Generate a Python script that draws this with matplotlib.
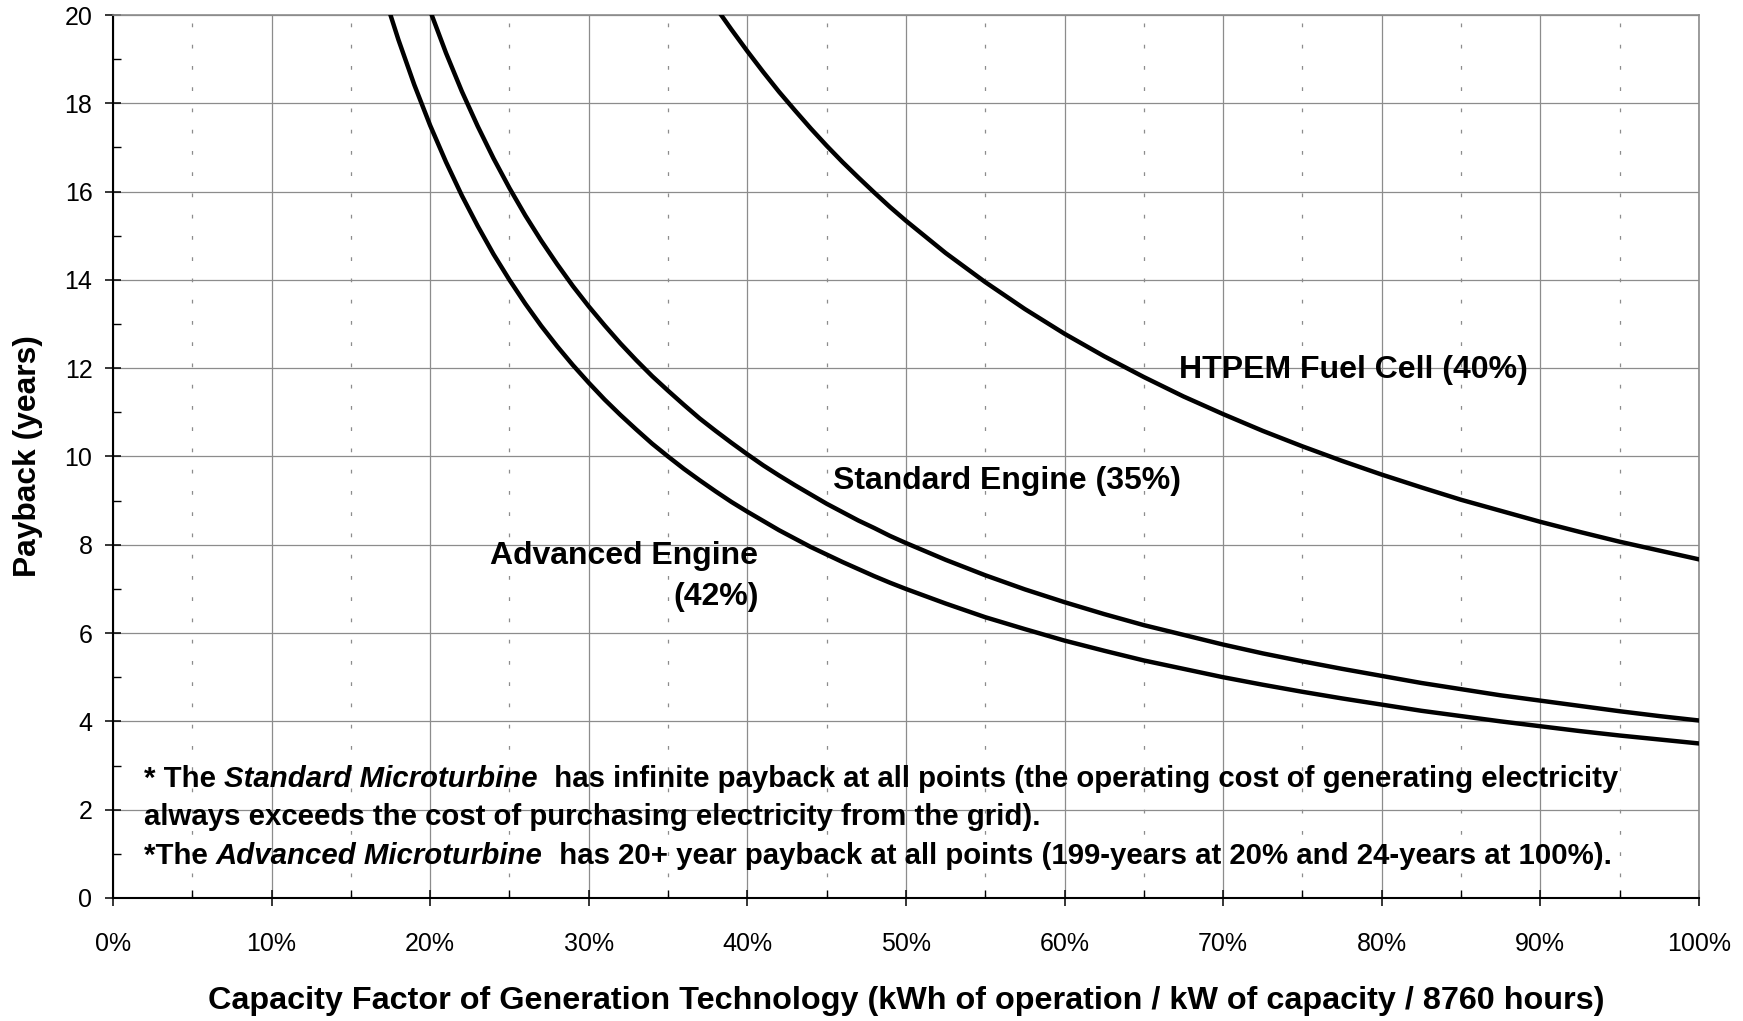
import matplotlib
matplotlib.use('Agg')
import matplotlib.pyplot as plt
from matplotlib.ticker import MultipleLocator, FuncFormatter

plt.rcParams['font.family'] = ['Liberation Sans', 'DejaVu Sans']

# capacity factor (%) vs payback (years)
adv_cf = [17.5, 18, 19, 20, 21, 22, 23, 24, 25, 26, 27, 28, 29, 30, 31, 32, 33, 34, 35,
          36, 37, 38, 39, 40, 41, 42, 43, 44, 45, 46, 47, 48, 49, 50,
          52.5, 55, 57.5, 60, 62.5, 65, 67.5, 70, 72.5, 75, 77.5, 80, 82.5, 85,
          87.5, 90, 92.5, 95, 97.5, 100]
adv_pb = [20.0, 19.44, 18.42, 17.50, 16.67, 15.91, 15.22, 14.58, 14.00, 13.46, 12.96,
          12.50, 12.07, 11.67, 11.29, 10.94, 10.61, 10.29, 10.00, 9.72, 9.46, 9.21,
          8.97, 8.75, 8.54, 8.33, 8.14, 7.95, 7.78, 7.61, 7.45, 7.29, 7.14, 7.00,
          6.67, 6.36, 6.09, 5.83, 5.60, 5.38, 5.19, 5.00, 4.83, 4.67, 4.52, 4.38,
          4.24, 4.12, 4.00, 3.89, 3.78, 3.68, 3.59, 3.50]

std_cf = [20.1, 21, 22, 23, 24, 25, 26, 27, 28, 29, 30, 31, 32, 33, 34, 35,
          36, 37, 38, 39, 40, 41, 42, 43, 44, 45, 46, 47, 48, 49, 50,
          52.5, 55, 57.5, 60, 62.5, 65, 67.5, 70, 72.5, 75, 77.5, 80, 82.5, 85,
          87.5, 90, 92.5, 95, 97.5, 100]
std_pb = [20.0, 19.14, 18.27, 17.48, 16.75, 16.08, 15.46, 14.89, 14.36, 13.86, 13.40,
          12.97, 12.56, 12.18, 11.82, 11.49, 11.17, 10.86, 10.58, 10.31, 10.05, 9.80,
          9.57, 9.35, 9.14, 8.93, 8.74, 8.55, 8.38, 8.20, 8.04,
          7.66, 7.31, 6.99, 6.70, 6.43, 6.18, 5.96, 5.74, 5.54, 5.36, 5.19, 5.03,
          4.87, 4.73, 4.59, 4.47, 4.35, 4.23, 4.12, 4.02]

fc_cf = [38.35, 39, 40, 41, 42, 43, 44, 45, 46, 47, 48, 49, 50,
         52.5, 55, 57.5, 60, 62.5, 65, 67.5, 70, 72.5, 75, 77.5, 80, 82.5, 85,
         87.5, 90, 92.5, 95, 97.5, 100]
fc_pb = [20.0, 19.67, 19.18, 18.71, 18.26, 17.84, 17.43, 17.04, 16.67, 16.32, 15.98,
         15.65, 15.34, 14.61, 13.95, 13.34, 12.78, 12.27, 11.80, 11.36, 10.96, 10.58,
         10.23, 9.90, 9.59, 9.30, 9.02, 8.77, 8.52, 8.29, 8.07, 7.87, 7.67]

fig = plt.figure(figsize=(17.43, 10.21), dpi=100)
ax = fig.add_axes([0.0648, 0.1205, 0.9099, 0.8648])

for cf, pb in [(adv_cf, adv_pb), (std_cf, std_pb), (fc_cf, fc_pb)]:
    ax.plot(cf, pb, color='black', lw=3.2, solid_joinstyle='round', zorder=3)

ax.set_xlim(0, 100)
ax.set_ylim(0, 20)
ax.xaxis.set_major_locator(MultipleLocator(10))
ax.xaxis.set_minor_locator(MultipleLocator(5))
ax.yaxis.set_major_locator(MultipleLocator(2))
ax.yaxis.set_minor_locator(MultipleLocator(1))
ax.xaxis.set_major_formatter(FuncFormatter(lambda v, p: '%d%%' % v))

ax.grid(which='major', color='#8c8c8c', lw=0.9)
ax.grid(which='minor', axis='x', color='#8c8c8c', lw=0.9, ls=(0, (3, 14)))
ax.set_axisbelow(True)

for s in ['top', 'right']:
    ax.spines[s].set_color('#8c8c8c')
    ax.spines[s].set_linewidth(1.2)
for s in ['left', 'bottom']:
    ax.spines[s].set_linewidth(1.5)

ax.tick_params(which='major', direction='inout', length=11.5, width=1.1, labelsize=18)
ax.tick_params(which='minor', direction='in', length=6, width=1.0)
ax.tick_params(axis='x', which='major', pad=19)
ax.tick_params(axis='y', which='major', pad=9)

ax.set_xlabel('Capacity Factor of Generation Technology (kWh of operation / kW of capacity / 8760 hours)',
              fontsize=23.3, fontweight='bold', va='center')
ax.xaxis.set_label_coords(0.5, -0.117)
ax.set_ylabel('Payback (years)', fontsize=22.9, fontweight='bold', va='center')
ax.yaxis.set_label_coords(-0.0536, 0.5)

lab = dict(fontsize=23, fontweight='bold')
ax.text(67.2, 11.97, 'HTPEM Fuel Cell (40%)', ha='left', va='center', **lab)
ax.text(45.4, 9.45, 'Standard Engine (35%)', ha='left', va='center', **lab)
ax.text(40.7, 7.28, 'Advanced Engine\n(42%)', ha='right', va='center',
        multialignment='right', linespacing=1.5, **lab)

# footnotes with italic names
note = dict(fontsize=21.2, fontweight='bold')
t = ax.text(1.96, 2.69, '* The ', va='center', **note)
t = ax.annotate('Standard Microturbine', xy=(1, 0), xycoords=t, va='bottom',
                fontstyle='italic', **note)
ax.annotate('  has infinite payback at all points (the operating cost of generating electricity',
            xy=(1, 0), xycoords=t, va='bottom', **note)
ax.text(1.96, 1.84, 'always exceeds the cost of purchasing electricity from the grid).',
        va='center', **note)
t = ax.text(1.96, 0.96, '*The ', va='center', **note)
t = ax.annotate('Advanced Microturbine', xy=(1, 0), xycoords=t, va='bottom',
                fontstyle='italic', **note)
ax.annotate('  has 20+ year payback at all points (199-years at 20% and 24-years at 100%).',
            xy=(1, 0), xycoords=t, va='bottom', **note)

fig.savefig('out.png', dpi=100)
